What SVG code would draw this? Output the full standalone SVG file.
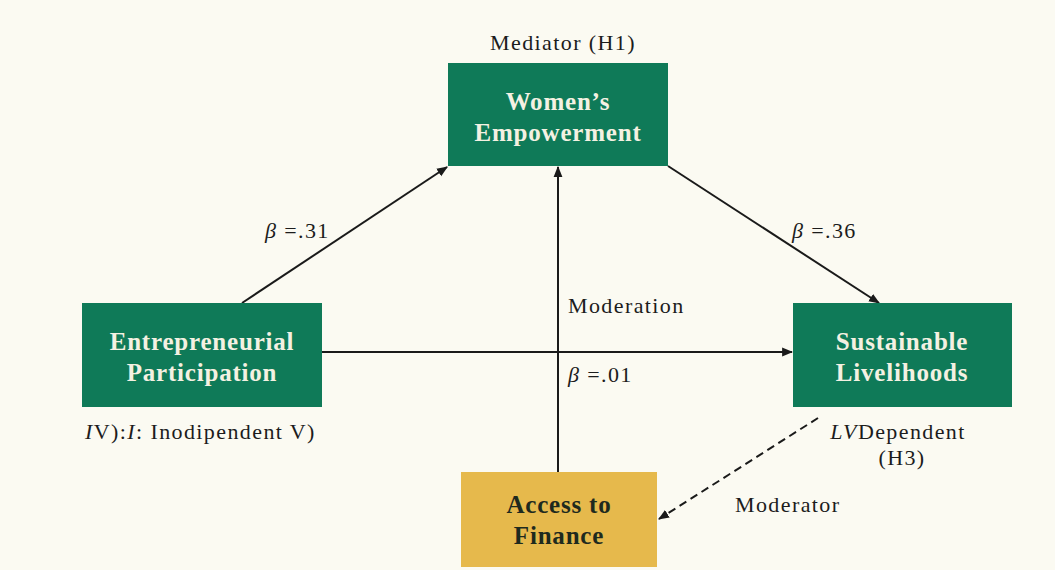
<svg xmlns="http://www.w3.org/2000/svg" width="1055" height="570" viewBox="0 0 1055 570">
<style>
.box{fill:#0f7a58}
.gold{fill:#e6b94c}
.bt{font-family:"Liberation Serif",serif;font-weight:bold;font-size:25px;fill:#f4f1e2;text-anchor:middle;letter-spacing:0.8px}
.gt{font-family:"Liberation Serif",serif;font-weight:bold;font-size:25px;fill:#1e2a1e;text-anchor:middle;letter-spacing:0.8px}
.lb{font-family:"Liberation Serif",serif;font-size:22px;fill:#1c1c1c;letter-spacing:1.4px}
.ln{stroke:#1a1a1a;stroke-width:2;fill:none}
</style>
<defs>
<marker id="ah2" viewBox="0 0 10 10" refX="9" refY="5" markerWidth="11" markerHeight="11" orient="auto" markerUnits="userSpaceOnUse">
<path d="M0,1 L10,5 L0,9 z" fill="#1a1a1a"/>
</marker>
</defs>
<rect width="1055" height="570" fill="#fbfaf2"/>
<g id="connectors">
<line class="ln" x1="242" y1="303" x2="447" y2="167" marker-end="url(#ah2)"/>
<line class="ln" x1="668" y1="166" x2="879" y2="303" marker-end="url(#ah2)"/>
<line class="ln" x1="322" y1="352" x2="792" y2="352" marker-end="url(#ah2)"/>
<line class="ln" x1="558" y1="472" x2="558" y2="167" marker-end="url(#ah2)"/>
<line class="ln" x1="818" y1="418" x2="659" y2="519" stroke-dasharray="8,5" stroke-width="2.2" marker-end="url(#ah2)"/>
</g>
<g id="labels">
<text class="lb" x="563" y="50" text-anchor="middle" letter-spacing="1.8">Mediator (H1)</text>
<text class="lb" x="265" y="238"><tspan font-style="italic">β</tspan> =.31</text>
<text class="lb" x="792" y="238"><tspan font-style="italic">β</tspan> =.36</text>
<text class="lb" x="568" y="313">Moderation</text>
<text class="lb" x="568" y="382"><tspan font-style="italic">β</tspan> =.01</text>
<text class="lb" x="85" y="439" letter-spacing="0.6"><tspan font-style="italic">I</tspan>V):<tspan font-style="italic">I</tspan>: Inodipendent V)</text>
<text class="lb" x="898" y="439" text-anchor="middle" letter-spacing="0.6"><tspan font-style="italic">LV</tspan>Dependent</text>
<text class="lb" x="902" y="465" text-anchor="middle">(H3)</text>
<text class="lb" x="735" y="512">Moderator</text>
</g>
<g id="womens-empowerment">
<rect class="box" x="448" y="63" width="220" height="103"/>
<text class="bt" x="558" y="110">Women’s</text>
<text class="bt" x="558" y="141">Empowerment</text>
</g>
<g id="entrepreneurial-participation">
<rect class="box" x="82" y="303" width="240" height="104"/>
<text class="bt" x="202" y="350">Entrepreneurial</text>
<text class="bt" x="202" y="381">Participation</text>
</g>
<g id="sustainable-livelihoods">
<rect class="box" x="793" y="303" width="219" height="104"/>
<text class="bt" x="902" y="350">Sustainable</text>
<text class="bt" x="902" y="381">Livelihoods</text>
</g>
<g id="access-to-finance">
<rect class="gold" x="461" y="472" width="196" height="95"/>
<text class="gt" x="559" y="513">Access to</text>
<text class="gt" x="559" y="544">Finance</text>
</g>
</svg>
